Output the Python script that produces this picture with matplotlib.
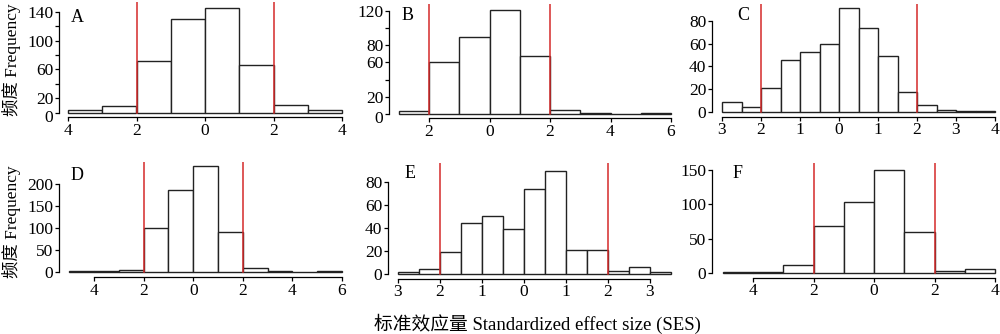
import matplotlib
matplotlib.use("Agg")
import matplotlib.pyplot as plt
import matplotlib.transforms as mtrans
import numpy as np

plt.rcParams['font.family'] = ['Liberation Serif', 'Noto Sans CJK SC']

# ---- data ----
A_edges = [-4, -3, -2, -1, 0, 1, 2, 3, 4]
A_counts = [3, 9, 72, 130, 145, 66, 11, 3]
B_edges = [-3, -2, -1, 0, 1, 2, 3, 4, 5, 6]
B_counts = [3, 60, 90, 121, 67, 5, 1.5, 0, 1]
C_edges = [-3, -2.5, -2, -1.5, -1, -0.5, 0, 0.5, 1, 1.5, 2, 2.5, 3, 3.5, 4]
C_counts = [9, 5, 21, 46, 53, 60, 91, 74, 49, 18, 6, 2, 1, 1]
D_edges = [-5, -4, -3, -2, -1, 0, 1, 2, 3, 4, 5, 6]
D_counts = [1.5, 3, 4.5, 99, 187, 241, 92, 8, 3, 0, 1.5]
E_edges = [-3, -2.5, -2, -1.5, -1, -0.5, 0, 0.5, 1, 1.5, 2, 2.5, 3, 3.5]
E_counts = [2, 5, 19, 45, 51, 39, 74, 90, 21, 21, 3, 6, 2]
F_edges = [-5, -4, -3, -2, -1, 0, 1, 2, 3, 4]
F_counts = [1.5, 1.5, 12, 68, 104, 150, 60, 4, 6]

A_xticks = [-4, -2, 0, 2, 4]
B_xticks = [-2, 0, 2, 4, 6]
C_xticks = [-3, -2, -1, 0, 1, 2, 3, 4]
D_xticks = [-4, -2, 0, 2, 4, 6]
E_xticks = [-3, -2, -1, 0, 1, 2, 3]
F_xticks = [-4, -2, 0, 2, 4]

A_yticks = [0, 20, 40, 60, 80, 100, 120, 140]
A_ylabels = ['0', '20', '', '60', '', '100', '', '140']
B_yticks = [0, 20, 40, 60, 80, 100, 120]
B_ylabels = ['0', '20', '', '60', '80', '', '120']
C_yticks = [0, 20, 40, 60, 80]
C_ylabels = ['0', '20', '40', '60', '80']
D_yticks = [0, 50, 100, 150, 200]
D_ylabels = ['0', '50', '100', '150', '200']
E_yticks = [0, 20, 40, 60, 80]
E_ylabels = ['0', '20', '40', '60', '80']
F_yticks = [0, 50, 100, 150]
F_ylabels = ['0', '50', '100', '150']

panel_letters = ['A', 'B', 'C', 'D', 'E', 'F']
thresholds = [-2, 2]
y_title = '频度 Frequency'
x_title = '标准效应量 Standardized effect size (SES)'

W, H = 1000, 334
fig = plt.figure(figsize=(10, 3.34), dpi=100)

# layout in pixels: (spine_left_px, (xa, xa_px), (xb, xb_px), right_px,
#                    y0_px, (yv, yv_px), top_px, bottom_px)
layout = [
    (59, (-4, 68), (4, 342), 346, 112.5, (140, 12), 2, 117),
    (389, (-2, 429), (6, 671), 673, 114, (120, 10.7), 4, 118.3),
    (711.7, (-3, 722), (4, 995), 998, 112.3, (80, 20.7), 4, 116.7),
    (59, (-4, 94), (6, 342), 346, 272, (200, 184), 161.7, 277),
    (388, (-3, 398), (3, 650), 673, 274.3, (80, 182.3), 163, 278.7),
    (711.7, (-4, 753), (4, 995), 998, 273.3, (150, 170), 162.7, 277.7),
]
letter_pos = [(77, 18), (408, 16), (743, 16), (77, 175), (410, 173), (738, 174)]

edges_all = [A_edges, B_edges, C_edges, D_edges, E_edges, F_edges]
counts_all = [A_counts, B_counts, C_counts, D_counts, E_counts, F_counts]
xt_all = [A_xticks, B_xticks, C_xticks, D_xticks, E_xticks, F_xticks]
yt_all = [A_yticks, B_yticks, C_yticks, D_yticks, E_yticks, F_yticks]
yl_all = [A_ylabels, B_ylabels, C_ylabels, D_ylabels, E_ylabels, F_ylabels]

fs = 12.5
for i in range(6):
    sl, (xa, xapx), (xb, xbpx), rpx, y0px, (yv, yvpx), tpx, bpx = layout[i]
    sx = (xbpx - xapx) / (xb - xa)
    sy = (y0px - yvpx) / yv
    xmin = xa - (xapx - sl) / sx
    xmax = xb + (rpx - xbpx) / sx
    ymin = -(bpx - y0px) / sy
    ymax = (y0px - tpx) / sy
    ax = fig.add_axes([sl / W, 1 - bpx / H, (rpx - sl) / W, (bpx - tpx) / H])
    ax.set_xlim(xmin, xmax)
    ax.set_ylim(ymin, ymax)
    ax.patch.set_alpha(0)

    e = np.array(edges_all[i], dtype=float)
    c = np.array(counts_all[i], dtype=float)
    ax.bar(e[:-1], c, width=np.diff(e), align='edge', facecolor='white',
           edgecolor='#222222', linewidth=1.0, zorder=2)
    for t in thresholds:
        ax.plot([t, t], [0, ymax], color='#d42a2a', lw=1.1, zorder=3)

    for s in ['top', 'right']:
        ax.spines[s].set_visible(False)
    ax.spines['left'].set_bounds(yt_all[i][0], yt_all[i][-1])
    ax.spines['bottom'].set_bounds(xt_all[i][0], xt_all[i][-1])
    ax.spines['left'].set_linewidth(0.9)
    ax.spines['bottom'].set_linewidth(0.9)

    ax.set_xticks(xt_all[i])
    ax.set_xticklabels([str(abs(v)) for v in xt_all[i]], fontsize=fs)
    ax.set_yticks(yt_all[i])
    ax.set_yticklabels(yl_all[i], fontsize=fs)
    ax.tick_params(axis='x', length=3, width=0.9, pad=1)
    ax.tick_params(axis='y', length=3, width=0.9, pad=1)

    if i in (0, 1):
        lab0 = ax.get_yticklabels()[0]
        lab0.set_transform(lab0.get_transform() +
                           mtrans.ScaledTranslation(0, -3 / 100, fig.dpi_scale_trans))

    lx, ly = letter_pos[i]
    fig.text(lx / W, 1 - ly / H, panel_letters[i],
             fontsize=13, ha='center', va='center')

fig.text(12 / W, 1 - 60 / H, y_title, rotation=90, fontsize=12.5,
         ha='center', va='center')
fig.text(12 / W, 1 - 222 / H, y_title, rotation=90, fontsize=12.5,
         ha='center', va='center')
fig.text(537 / W, 1 - 324 / H, x_title, fontsize=13.5, ha='center', va='center')

fig.savefig('out.png', dpi=100)
